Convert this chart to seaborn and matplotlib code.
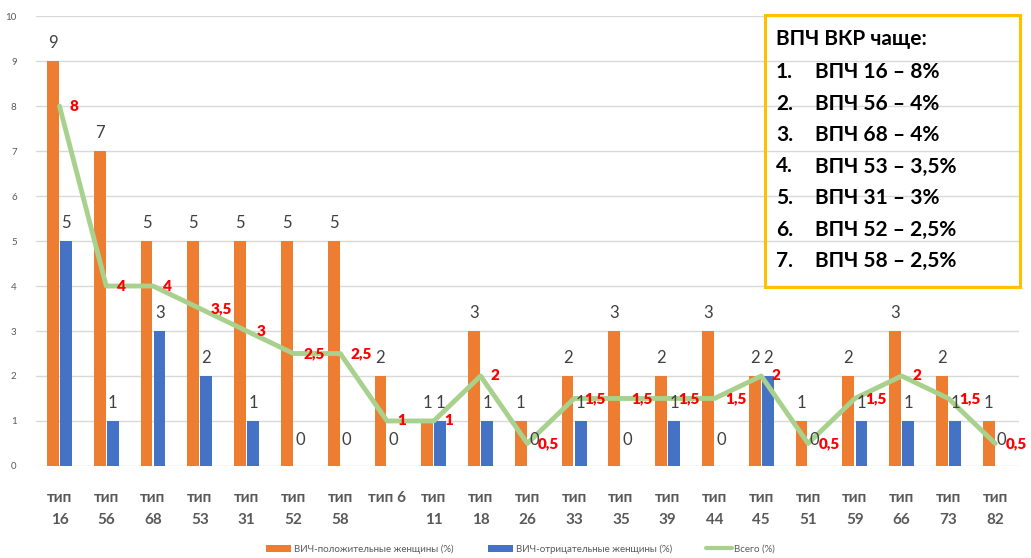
import numpy as np
import pandas as pd
import seaborn as sns
import matplotlib
matplotlib.use("Agg")
import matplotlib.pyplot as plt
from matplotlib.patches import Rectangle, Patch
from matplotlib.lines import Line2D

# HPV types on the x axis
types = ["тип\n16", "тип\n56", "тип\n68", "тип\n53", "тип\n31", "тип\n52", "тип\n58",
         "тип 6", "тип\n11", "тип\n18", "тип\n26", "тип\n33", "тип\n35", "тип\n39",
         "тип\n44", "тип\n45", "тип\n51", "тип\n59", "тип\n66", "тип\n73", "тип\n82"]

# Share of women with each type, %
hiv_pos = [9, 7, 5, 5, 5, 5, 5, 2, 1, 3, 1, 2, 3, 2, 3, 2, 1, 2, 3, 2, 1]
hiv_neg = [5, 1, 3, 2, 1, 0, 0, 0, 1, 1, 0, 1, 0, 1, 0, 2, 0, 1, 1, 1, 0]
total = [8, 4, 4, 3.5, 3, 2.5, 2.5, 1, 1, 2, 0.5, 1.5, 1.5, 1.5, 1.5, 2, 0.5, 1.5, 2, 1.5, 0.5]

series_names = ["ВИЧ-положительные женщины (%)", "ВИЧ-отрицательные женщины (%)", "Всего (%)"]

# Most frequent high-risk types
top_title = "ВПЧ ВКР чаще:"
top_items = ["ВПЧ 16 – 8%", "ВПЧ 56 – 4%", "ВПЧ 68 – 4%", "ВПЧ 53 – 3,5%",
             "ВПЧ 31 – 3%", "ВПЧ 52 – 2,5%", "ВПЧ 58 – 2,5%"]

ORANGE = "#ED7D31"
BLUE = "#4472C4"
GREEN = "#A9D18E"
GRAY = "#595959"

sns.set_theme(style="white")
plt.rcParams["font.family"] = ["Lato", "DejaVu Sans"]

df = pd.DataFrame({
    "type": types * 2,
    "value": hiv_pos + hiv_neg,
    "group": [series_names[0]] * len(types) + [series_names[1]] * len(types),
})

fig = plt.figure(figsize=(10.31, 5.58), dpi=100)
ax = fig.add_axes([0.035, 0.165, 0.953, 0.806])

sns.barplot(data=df, x="type", y="value", hue="group", order=types,
            hue_order=series_names[:2], palette=[ORANGE, BLUE],
            width=0.56, gap=0.1, dodge=True, legend=False, ax=ax,
            saturation=1, linewidth=0)

x_pos = np.arange(len(types))
sns.lineplot(x=x_pos, y=total, color=GREEN, linewidth=3.5, ax=ax, zorder=4)

# Value labels above the bars
for cont, vals in zip(ax.containers, [hiv_pos, hiv_neg]):
    for rect, v in zip(cont, vals):
        cx = rect.get_x() + rect.get_width() / 2
        ax.annotate(f"{v:g}", (cx, v), xytext=(0, 13 if v > 0 else 19),
                    textcoords="offset points", ha="center", va="center",
                    fontsize=12, color="#404040", zorder=5)

# Labels for the total line
for xi, v in zip(x_pos, total):
    ax.annotate(f"{v:g}".replace(".", ","), (xi, v), xytext=(7.5, 0),
                textcoords="offset points", ha="left", va="center",
                fontsize=11, fontweight="heavy", color="red", zorder=6)

ax.set_ylim(0, 10)
ax.set_xlim(-0.5, len(types) - 0.5)
ax.set_yticks(range(0, 11))
ax.yaxis.grid(True, color="#D9D9D9", linewidth=1)
ax.set_axisbelow(True)
for s in ax.spines.values():
    s.set_visible(False)
ax.set_xlabel("")
ax.set_ylabel("")
ax.tick_params(axis="y", labelsize=7, colors=GRAY, length=0, pad=14)
ax.tick_params(axis="x", length=0, pad=18)
for lbl in ax.get_xticklabels():
    lbl.set_fontsize(11)
    lbl.set_fontweight("bold")
    lbl.set_color(GRAY)
    lbl.set_linespacing(1.7)
    lbl.set_va("top")

# Legend beneath the chart
handles = [Patch(facecolor=ORANGE, edgecolor="none"),
           Patch(facecolor=BLUE, edgecolor="none"),
           Line2D([0], [0], color=GREEN, linewidth=3)]
fig.legend(handles, series_names, loc="center", bbox_to_anchor=(0.505, 0.016),
           ncol=3, frameon=False, fontsize=7, labelcolor=GRAY,
           handlelength=2.6, handleheight=0.7, columnspacing=3.5, handletextpad=0.3)

# Boxed list of the most frequent types
bx0, by0, bx1, by1 = 765 / 1031, 1 - 287 / 558, 1020 / 1031, 1 - 15 / 558
fig.patches.append(Rectangle((bx0, by0), bx1 - bx0, by1 - by0, transform=fig.transFigure,
                             facecolor="none", edgecolor="#FFC000", linewidth=2.2, zorder=10))
fig.text(776 / 1031, 1 - 39 / 558, top_title, fontsize=15, fontweight="bold",
         color="black", va="center", ha="left")
for i, item in enumerate(top_items):
    yy = 1 - (72 + i * 31.5) / 558
    fig.text(776 / 1031, yy, f"{i + 1}.", fontsize=15, fontweight="bold",
             color="black", va="center", ha="left")
    fig.text(815 / 1031, yy, item, fontsize=15, fontweight="bold",
             color="black", va="center", ha="left")

fig.savefig("out.png", dpi=100)
